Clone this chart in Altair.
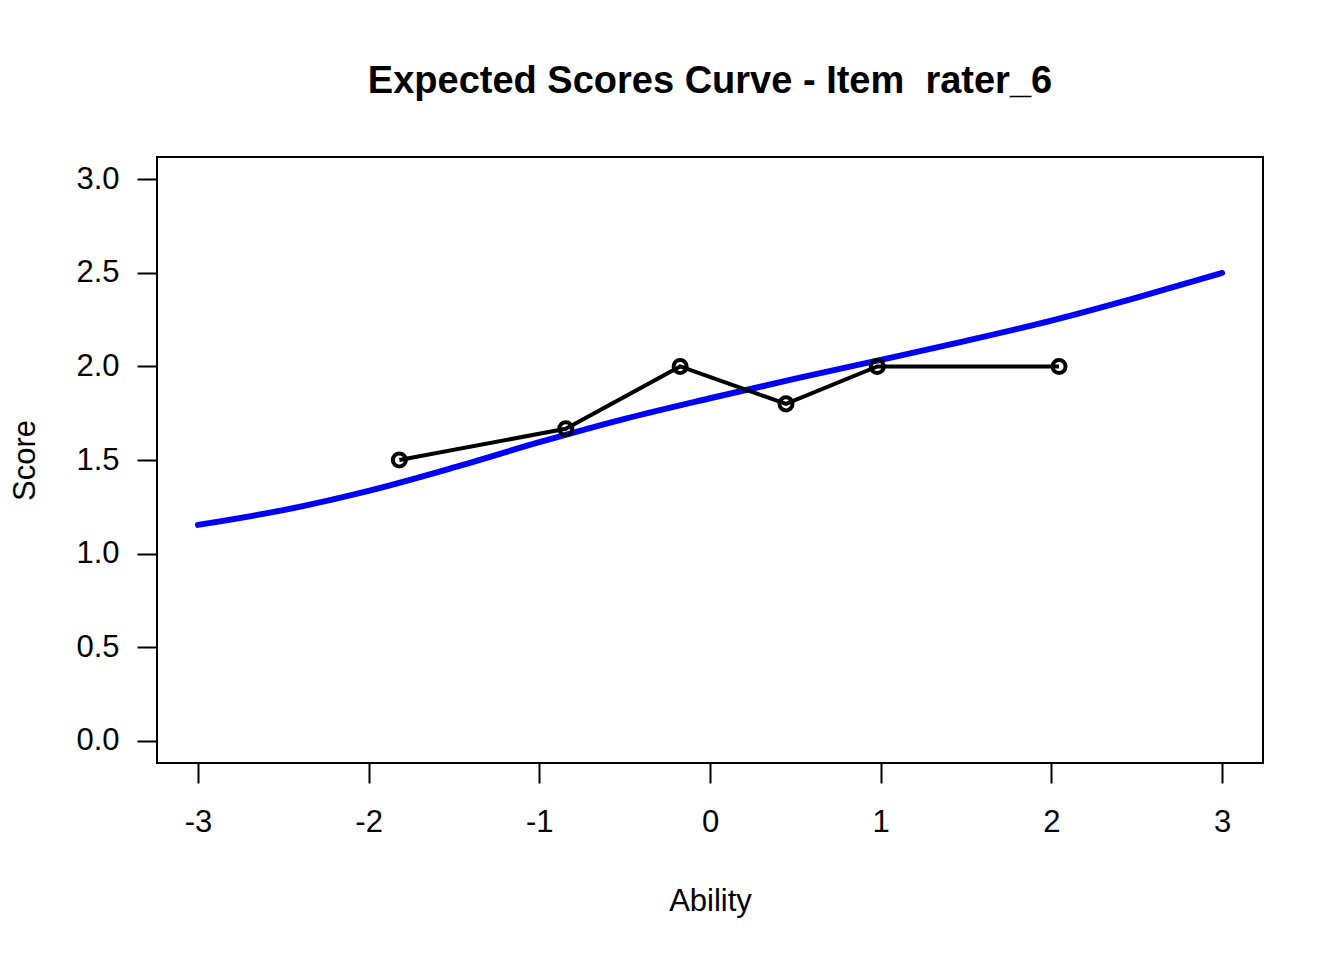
import altair as alt
import pandas as pd

# Expected score curve
curve_x = [-3.0, -2.5, -2.0, -1.5, -1.0, -0.5, 0.0, 0.5, 1.0, 1.5, 2.0, 2.5, 3.0]
curve_y = [1.153, 1.232, 1.335, 1.46, 1.595, 1.72, 1.83, 1.935, 2.035, 2.137, 2.245, 2.368, 2.50]

# Observed scores
obs_x = [-1.82, -0.845, -0.175, 0.445, 0.98, 2.045]
obs_y = [1.5, 1.667, 2.0, 1.8, 2.0, 2.0]

x_ticks = [-3, -2, -1, 0, 1, 2, 3]
y_ticks = [0.0, 0.5, 1.0, 1.5, 2.0, 2.5, 3.0]

curve = pd.DataFrame({"Ability": curve_x, "Score": curve_y})
obs = pd.DataFrame({"Ability": obs_x, "Score": obs_y})

FONT = "Liberation Sans"

xs = alt.Scale(domain=[-3.24, 3.24], nice=False, zero=False)
ys = alt.Scale(domain=[-0.12, 3.12], nice=False, zero=False)

xaxis = alt.Axis(values=x_ticks, title="Ability", domain=False, grid=False,
                 tickSize=20, tickColor="black", tickWidth=2,
                 labelFontSize=31, labelFont=FONT, labelColor="black",
                 labelPadding=24, labelFlush=False,
                 labelExpr="'' + datum.value",
                 titleFontSize=31, titleFont=FONT, titleFontWeight="normal",
                 titleColor="black", titlePadding=49)
yaxis = alt.Axis(values=y_ticks, title="Score", domain=False, grid=False,
                 tickSize=20, tickColor="black", tickWidth=2,
                 labelFontSize=31, labelFont=FONT, labelColor="black",
                 labelPadding=18, labelFlush=False, format=".1f",
                 titleFontSize=31, titleFont=FONT, titleFontWeight="normal",
                 titleColor="black", titlePadding=34)

blue = alt.Chart(curve).mark_line(color="#0000ff", strokeWidth=6, interpolate="monotone", strokeCap="round").encode(
    x=alt.X("Ability:Q", scale=xs, axis=xaxis),
    y=alt.Y("Score:Q", scale=ys, axis=yaxis),
)

obs_line = alt.Chart(obs).mark_line(color="black", strokeWidth=4).encode(
    x=alt.X("Ability:Q", scale=xs),
    y=alt.Y("Score:Q", scale=ys),
)

obs_pts = alt.Chart(obs).mark_point(shape="circle", filled=False, color="black",
                                    strokeWidth=4, size=170, opacity=1).encode(
    x=alt.X("Ability:Q", scale=xs),
    y=alt.Y("Score:Q", scale=ys),
)

chart = (blue + obs_line + obs_pts).properties(
    width=1106, height=606,
    title=alt.TitleParams("Expected Scores Curve - Item\u00a0 rater_6", fontSize=38,
                          font=FONT, fontWeight="bold", color="black",
                          anchor="middle", offset=56),
    autosize=alt.AutoSizeParams(type="none"),
    padding={"left": 149, "top": 149, "right": 73, "bottom": 181},
).configure(background="white").configure_view(stroke="black", strokeWidth=2)

chart.save("out.html", embed_options={"renderer": "svg", "actions": False})
